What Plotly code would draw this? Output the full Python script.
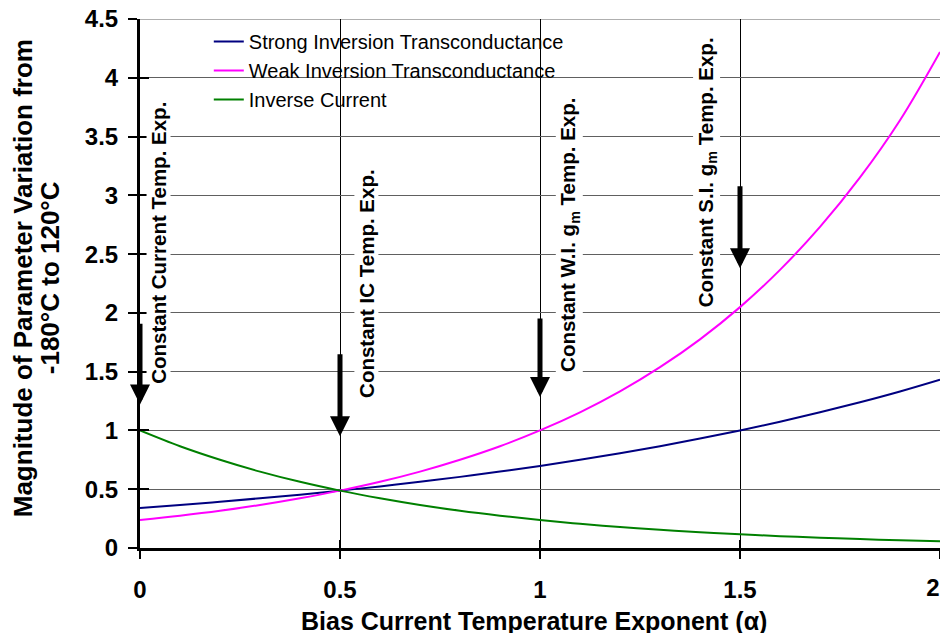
import plotly.graph_objects as go

alpha = [0.0, 0.1, 0.2, 0.3, 0.4, 0.5, 0.6, 0.7, 0.8, 0.9, 1.0,
         1.1, 1.2, 1.3, 1.4, 1.5, 1.6, 1.7, 1.8, 1.9, 2.0]
strong_inv = [0.341, 0.366, 0.393, 0.423, 0.454, 0.488, 0.524, 0.563, 0.605, 0.650, 0.698,
              0.750, 0.806, 0.866, 0.931, 1.000, 1.074, 1.154, 1.240, 1.332, 1.432]
weak_inv = [0.238, 0.275, 0.317, 0.366, 0.423, 0.488, 0.563, 0.650, 0.751, 0.866, 1.000,
            1.154, 1.332, 1.538, 1.775, 2.049, 2.366, 2.731, 3.152, 3.639, 4.220]
inverse_current = [1.000, 0.866, 0.751, 0.650, 0.563, 0.488, 0.423, 0.366, 0.317, 0.275, 0.238,
                   0.206, 0.179, 0.155, 0.134, 0.116, 0.101, 0.087, 0.076, 0.065, 0.057]

series_names = ["Strong Inversion Transconductance", "Weak Inversion Transconductance", "Inverse Current"]
series_colors = ["#000080", "#FF00FF", "#008000"]

x_ticks = [0, 0.5, 1, 1.5, 2]
x_tick_text = ["0", "0.5", "1", "1.5", "2"]
y_ticks = [0, 0.5, 1, 1.5, 2, 2.5, 3, 3.5, 4, 4.5]
y_tick_text = ["0", "0.5", "1", "1.5", "2", "2.5", "3", "3.5", "4", "4.5"]
x_max = 2
y_max = 4.5

# vertical labels with arrows at the special exponents
marker_alpha = [0.0, 0.5, 1.0, 1.5]
marker_text = ["Constant Current Temp. Exp.", "Constant IC Temp. Exp.",
               "Constant W.I. g<sub>m</sub> Temp. Exp.", "Constant S.I. g<sub>m</sub> Temp. Exp."]
marker_text_dx = [0.046, 0.066, 0.074, -0.084]
marker_text_y = [2.60, 2.25, 2.66, 3.20]
arrow_from = [1.92, 1.66, 1.965, 3.09]
arrow_to = [1.22, 0.95, 1.285, 2.38]

FONT = "Liberation Sans, Arial, sans-serif"
TICKFONT = dict(family=FONT, size=24, color="black", weight="bold")

fig = go.Figure()
for name, ys, col in zip(series_names, [strong_inv, weak_inv, inverse_current], series_colors):
    fig.add_trace(go.Scatter(x=alpha, y=ys, mode="lines", name=name,
                             line=dict(color=col, width=2, shape="spline")))

# top border gridline
fig.add_shape(type="line", xref="paper", yref="y", x0=0, x1=1, y0=y_max, y1=y_max,
              line=dict(color="#606060", width=1), layer="below")

for a, t, dx, ty, y0, y1 in zip(marker_alpha, marker_text, marker_text_dx, marker_text_y,
                                arrow_from, arrow_to):
    fig.add_annotation(x=a + dx, y=ty, xref="x", yref="y", text="<b>" + t + "</b>",
                       textangle=-90, showarrow=False, bgcolor="white", borderpad=0,
                       font=dict(family=FONT, size=20.5, color="black"))
    fig.add_annotation(x=a, y=y1, ax=a, ay=y0, xref="x", yref="y", axref="x", ayref="y",
                       text="", showarrow=True, arrowhead=2, arrowsize=0.8, arrowwidth=5,
                       arrowcolor="black", standoff=0)

# axis titles
fig.add_annotation(x=0.4925, y=-0.1380, xref="paper", yref="paper", showarrow=False,
                   text="<b>Bias Current Temperature Exponent (α)</b>", yanchor="middle",
                   font=dict(family=FONT, size=25, color="black"))
fig.add_annotation(x=-0.1462, y=0.51, xref="paper", yref="paper", showarrow=False, textangle=-90,
                   text="<b>Magnitude of Parameter Variation from</b>", xanchor="center",
                   font=dict(family=FONT, size=26, color="black"))
fig.add_annotation(x=-0.1125, y=0.51, xref="paper", yref="paper", showarrow=False, textangle=-90,
                   text="<b>-180°C to 120°C</b>", xanchor="center",
                   font=dict(family=FONT, size=26, color="black"))

fig.update_layout(
    width=932, height=625,
    margin=dict(l=132, r=0, t=11, b=85, autoexpand=False),
    paper_bgcolor="white", plot_bgcolor="white",
    font=dict(family=FONT, color="black"),
    showlegend=True,
    legend=dict(x=0.086, y=0.9943, xanchor="left", yanchor="top", bgcolor="rgba(0,0,0,0)",
                font=dict(family=FONT, size=20, color="black"), tracegroupgap=0,
                itemwidth=30),
    xaxis=dict(range=[0, x_max], tickvals=x_ticks, ticktext=x_tick_text[:-1] + [""],
               automargin=False, ticklabeloverflow="allow",
               showgrid=True, gridcolor="black", gridwidth=1, zeroline=False,
               showline=True, linecolor="black", linewidth=3,
               ticks="outside", ticklen=8, tickwidth=2, tickcolor="black",
               ticklabelstandoff=10, tickfont=TICKFONT),
    yaxis=dict(range=[0, y_max], tickvals=y_ticks, ticktext=y_tick_text, automargin=False,
               ticklabeloverflow="allow",
               showgrid=True, gridcolor="#606060", gridwidth=1, zeroline=False,
               showline=True, linecolor="black", linewidth=3,
               ticks="outside", ticklen=9, tickwidth=2, tickcolor="black",
               ticklabelstandoff=5, tickfont=TICKFONT),
    xaxis2=dict(range=[0, x_max], overlaying="x", tickvals=x_ticks, showticklabels=False,
                ticks="inside", ticklen=8, tickwidth=2, tickcolor="black", automargin=False,
                showgrid=False, zeroline=False, showline=False, side="bottom", anchor="y"),
    xaxis3=dict(range=[0, x_max], overlaying="x", tickvals=[x_ticks[-1]], ticktext=[x_tick_text[-1]],
                ticks="outside", ticklen=8, tickwidth=0, tickcolor="rgba(0,0,0,0)",
                ticklabelshift=-7, ticklabelstandoff=10, ticklabeloverflow="allow",
                automargin=False, showgrid=False, zeroline=False, showline=False,
                side="bottom", anchor="y", tickfont=TICKFONT),
    yaxis2=dict(range=[0, y_max], overlaying="y", tickvals=y_ticks, automargin=False,
                showticklabels=False, ticks="inside", ticklen=9, tickwidth=2, tickcolor="black",
                showgrid=False, zeroline=False, showline=False, side="left", anchor="x"),
)
fig.add_trace(go.Scatter(x=[0], y=[0], xaxis="x2", yaxis="y2", mode="markers",
                         marker=dict(opacity=0), showlegend=False, hoverinfo="skip"))
fig.add_trace(go.Scatter(x=[0], y=[0], xaxis="x3", yaxis="y", mode="markers",
                         marker=dict(opacity=0), showlegend=False, hoverinfo="skip"))

fig.write_html("out.html")
